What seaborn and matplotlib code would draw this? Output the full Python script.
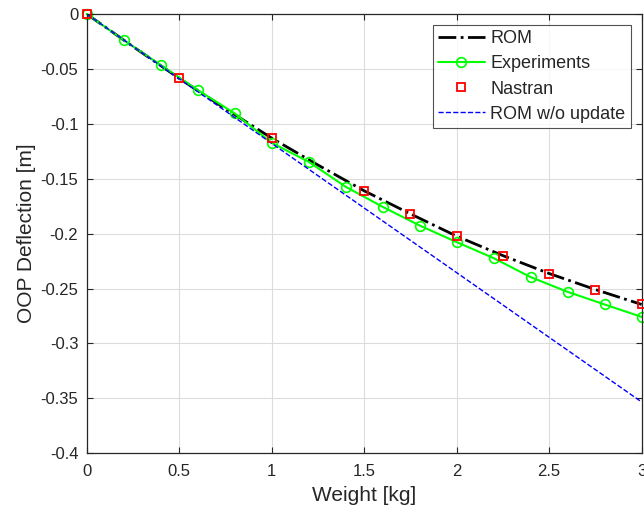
import numpy as np
import pandas as pd
import seaborn as sns
import matplotlib.pyplot as plt
from matplotlib.ticker import FuncFormatter

# ROM (dash-dot black)
rom_w = [0, 0.25, 0.5, 0.75, 1.0, 1.25, 1.5, 1.75, 2.0, 2.25, 2.5, 2.75, 3.0]
rom_d = [0, -0.0296, -0.0586, -0.0862, -0.113, -0.1375, -0.161, -0.182,
         -0.2023, -0.220, -0.2363, -0.2509, -0.2645]

# Experiments (green circles)
exp_w = [0, 0.2, 0.4, 0.6, 0.8, 1.0, 1.2, 1.4, 1.6, 1.8, 2.0, 2.2, 2.4, 2.6, 2.8, 3.0]
exp_d = [0, -0.0237, -0.0465, -0.0692, -0.0905, -0.1173, -0.1346, -0.1573,
         -0.1756, -0.1926, -0.2077, -0.2223, -0.2396, -0.2530, -0.2645, -0.2758]

# Nastran (red squares)
nas_w = [0, 0.5, 1.0, 1.5, 1.75, 2.0, 2.25, 2.5, 2.75, 3.0]
nas_d = [0, -0.0586, -0.1127, -0.1613, -0.1822, -0.2023, -0.220, -0.2363, -0.2509, -0.2645]

# ROM without update (blue dashed)
lin_w = [0, 3.0]
lin_d = [0, -0.3533]

sns.set_style("ticks")
plt.rcParams['font.family'] = ['Liberation Sans', 'DejaVu Sans']
plt.rcParams['axes.unicode_minus'] = False

fig = plt.figure(figsize=(6.44, 5.11), dpi=100)
ax = fig.add_axes([0.1346, 0.1129, 0.8618, 0.8597])

sns.lineplot(x=rom_w, y=rom_d, ax=ax, color='black', linestyle='-.', linewidth=2,
             label='ROM', sort=False)
sns.lineplot(x=exp_w, y=exp_d, ax=ax, color='#00ff00', linewidth=1.5, marker='o',
             markersize=7, markerfacecolor='none', markeredgecolor='#00ff00',
             markeredgewidth=1.2, label='Experiments', sort=False, clip_on=False)
ax.plot(nas_w, nas_d, linestyle='none', marker='s', markersize=6,
        markerfacecolor='none', markeredgecolor='red', markeredgewidth=1.3,
        label='Nastran', clip_on=False, zorder=5)
sns.lineplot(x=lin_w, y=lin_d, ax=ax, color='blue', linestyle='--', linewidth=1,
             label='ROM w/o update', sort=False)

ax.set_xlim(0, 3)
ax.set_ylim(-0.4, 0)
ax.set_xticks(np.arange(0, 3.01, 0.5))
ax.set_yticks(np.arange(-0.4, 0.001, 0.05))
fmt = FuncFormatter(lambda v, p: f"{round(v, 3):g}" if abs(v) > 1e-9 else "0")
ax.xaxis.set_major_formatter(fmt)
ax.yaxis.set_major_formatter(fmt)
ax.tick_params(direction='in', length=4, width=0.8, labelsize=12, colors='#262626',
               top=True, right=True)
ax.tick_params(axis='x', pad=8)
ax.tick_params(axis='y', pad=6)
ax.grid(True, color='#dcdcdc', linewidth=0.8)
ax.set_axisbelow(True)
for s in ax.spines.values():
    s.set_color('#262626')
    s.set_linewidth(0.9)

ax.set_xlabel('Weight [kg]', fontsize=15, color='#262626', labelpad=5)
ax.set_ylabel('OOP Deflection [m]', fontsize=15, color='#262626', labelpad=3)

leg = ax.legend(loc='upper right', fontsize=13, frameon=True, fancybox=False,
                edgecolor='#262626', borderaxespad=0.6, handlelength=2.6,
                handletextpad=0.3, labelspacing=0.45, borderpad=0.3)
leg.get_frame().set_linewidth(0.8)

fig.savefig('out.png', dpi=100)
